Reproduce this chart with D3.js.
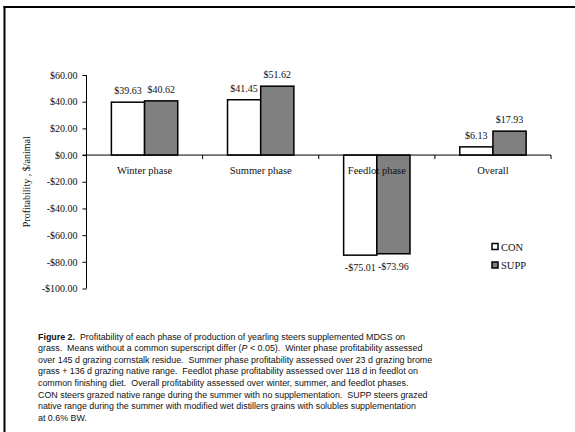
<!DOCTYPE html>
<html>
<head>
<meta charset="utf-8">
<script src="https://cdn.jsdelivr.net/npm/d3@7/dist/d3.min.js"></script>
<style>
  html, body { margin: 0; padding: 0; background: #fff; }
  svg { display: block; }
  text { white-space: pre; }
</style>
</head>
<body>
<script>
const categories = ["Winter phase", "Summer phase", "Feedlot phase", "Overall"];
const seriesNames = ["CON", "SUPP"];
const conValues = [39.63, 41.45, -75.01, 6.13];
const suppValues = [40.62, 51.62, -73.96, 17.93];
const yTickValues = [60, 40, 20, 0, -20, -40, -60, -80, -100];
const seriesColors = ["#ffffff", "#808080"];
const captionLines = [
  [["Figure 2.", "bold"], ["  Profitability of each phase of production of yearling steers supplemented MDGS on", ""]],
  [["grass.  Means without a common superscript differ (", ""], ["P", "italic"], [" < 0.05).  Winter phase profitability assessed", ""]],
  [["over 145 d grazing cornstalk residue.  Summer phase profitability assessed over 23 d grazing brome", ""]],
  [["grass + 136 d grazing native range.  Feedlot phase profitability assessed over 118 d in feedlot on", ""]],
  [["common finishing diet.  Overall profitability assessed over winter, summer, and feedlot phases.", ""]],
  [["CON steers grazed native range during the summer with no supplementation.  SUPP steers grazed", ""]],
  [["native range during the summer with modified wet distillers grains with solubles supplementation", ""]],
  [["at 0.6% BW.", ""]]
];

const W = 575, H = 432;
const svg = d3.select("body").append("svg").attr("width", W).attr("height", H);
svg.append("rect").attr("width", W).attr("height", H).attr("fill", "#fff");

// frame
svg.append("line").attr("x1", 3.5).attr("x2", W).attr("y1", 7).attr("y2", 7)
  .attr("stroke", "#000").attr("stroke-width", 2);
svg.append("line").attr("x1", 4.5).attr("x2", 4.5).attr("y1", 6).attr("y2", H)
  .attr("stroke", "#000").attr("stroke-width", 2);

const serif = "'Liberation Serif', 'Times New Roman', serif";
const sans = "'Liberation Sans', Arial, sans-serif";

const x0 = d3.scaleBand().domain(categories).range([86.5, 551]).paddingInner(0).paddingOuter(0);
const x1 = d3.scaleBand().domain(seriesNames).range([0, x0.bandwidth()]).paddingInner(0).paddingOuter(0.75);
const y = d3.scaleLinear().domain([-100, 60]).range([288.5, 75]);

const fmt = v => (v < 0 ? "-" : "") + "$" + Math.abs(v).toFixed(2);

const data = categories.map((c, i) => ({ cat: c, vals: [
  { s: "CON", v: conValues[i] }, { s: "SUPP", v: suppValues[i] } ] }));

// bars
const g = svg.append("g");
const groups = g.selectAll("g.grp").data(data).join("g").attr("class", "grp")
  .attr("transform", d => `translate(${x0(d.cat)},0)`);
groups.selectAll("rect").data(d => d.vals).join("rect")
  .attr("x", d => x1(d.s))
  .attr("width", x1.bandwidth())
  .attr("y", d => y(Math.max(0, d.v)))
  .attr("height", d => Math.abs(y(d.v) - y(0)))
  .attr("fill", (d, i) => seriesColors[i])
  .attr("stroke", "#000").attr("stroke-width", 1.5);

// value labels
groups.selectAll("text.val").data(d => d.vals).join("text").attr("class", "val")
  .attr("x", d => x1(d.s) + x1.bandwidth() / 2)
  .attr("y", d => d.v >= 0 ? y(d.v) - 8 : y(d.v) + 16)
  .attr("text-anchor", "middle")
  .attr("font-family", serif).attr("font-size", "10px").attr("fill", "#111")
  .text(d => fmt(d.v));

// y axis
const yAxis = d3.axisLeft(y).tickValues(yTickValues).tickSize(4).tickPadding(5)
  .tickFormat(fmt);
const ya = svg.append("g").attr("transform", "translate(86.5,0)").call(yAxis);
ya.select(".domain").attr("stroke", "#000").attr("d", `M0,${y(60)}V${y(-100)}`);
ya.selectAll(".tick line").attr("stroke", "#000");
ya.selectAll(".tick text").attr("font-family", serif).attr("font-size", "10px").attr("fill", "#111");

// x axis at zero
const xa = svg.append("g").attr("transform", `translate(0,${y(0)})`);
xa.append("line").attr("x1", 82.5).attr("x2", 551).attr("y1", 0).attr("y2", 0).attr("stroke", "#000");
xa.selectAll("line.tk").data(categories).join("line").attr("class", "tk")
  .attr("x1", d => x0(d) + x0.bandwidth()).attr("x2", d => x0(d) + x0.bandwidth())
  .attr("y1", 0).attr("y2", 4).attr("stroke", "#000");
xa.selectAll("text.cat").data(categories).join("text").attr("class", "cat")
  .attr("x", d => x0(d) + x0.bandwidth() / 2).attr("y", 19)
  .attr("text-anchor", "middle")
  .attr("font-family", serif).attr("font-size", "10.5px").attr("fill", "#111")
  .text(d => d);

// y title
svg.append("text")
  .attr("transform", `translate(30,${(y(60) + y(-100)) / 2}) rotate(-90)`)
  .attr("text-anchor", "middle")
  .attr("font-family", serif).attr("font-size", "10px").attr("fill", "#111")
  .text("Profitability , $/animal");

// legend
const leg = svg.append("g").attr("transform", "translate(492,0)");
seriesNames.forEach((s, i) => {
  const yy = 243.5 + i * 18.5;
  leg.append("rect").attr("x", 0).attr("y", yy).attr("width", 6).attr("height", 6)
    .attr("fill", seriesColors[i]).attr("stroke", "#000").attr("stroke-width", 1.5);
  leg.append("text").attr("x", 9).attr("y", yy + 7)
    .attr("font-family", serif).attr("font-size", "10.5px").attr("fill", "#111").text(s);
});

// caption
const cap = svg.append("g");
captionLines.forEach((line, i) => {
  const t = cap.append("text").attr("x", 38).attr("y", 339.5 + i * 11.6)
    .attr("font-family", sans).attr("font-size", "8.9px").attr("fill", "#111");
  line.forEach(([str, style]) => {
    const ts = t.append("tspan").text(str);
    if (style === "bold") ts.attr("font-weight", "bold");
    if (style === "italic") ts.attr("font-style", "italic");
  });
});
</script>
</body>
</html>
